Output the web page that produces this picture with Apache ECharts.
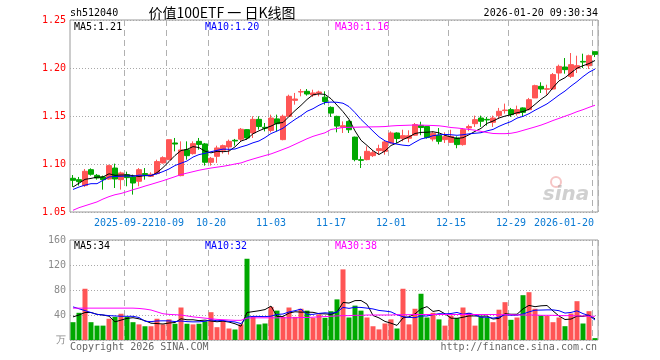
<!DOCTYPE html>
<html>
<head>
<meta charset="utf-8">
<script src="https://cdn.jsdelivr.net/npm/echarts@6/dist/echarts.min.js"></script>
<style>
html,body{margin:0;padding:0;background:#fff;}
#chart{width:660px;height:360px;}
</style>
</head>
<body>
<div id="chart"></div>
<script>
const dates = ['2025-09-09','2025-09-10','2025-09-11','2025-09-12','2025-09-15','2025-09-16','2025-09-17','2025-09-18','2025-09-19',
'2025-09-22','2025-09-23','2025-09-24','2025-09-25','2025-09-26','2025-09-29','2025-09-30',
'2025-10-09','2025-10-10','2025-10-13','2025-10-14','2025-10-15','2025-10-16','2025-10-17',
'2025-10-20','2025-10-21','2025-10-22','2025-10-23','2025-10-24','2025-10-27','2025-10-28','2025-10-29','2025-10-30','2025-10-31',
'2025-11-03','2025-11-04','2025-11-05','2025-11-06','2025-11-07','2025-11-10','2025-11-11','2025-11-12','2025-11-13','2025-11-14',
'2025-11-17','2025-11-18','2025-11-19','2025-11-20','2025-11-21','2025-11-24','2025-11-25','2025-11-26','2025-11-27','2025-11-28',
'2025-12-01','2025-12-02','2025-12-03','2025-12-04','2025-12-05','2025-12-08','2025-12-09','2025-12-10','2025-12-11','2025-12-12',
'2025-12-15','2025-12-16','2025-12-17','2025-12-18','2025-12-19','2025-12-22','2025-12-23','2025-12-24','2025-12-25','2025-12-26',
'2025-12-29','2025-12-30','2025-12-31',
'2026-01-05','2026-01-06','2026-01-07','2026-01-08','2026-01-09',
'2026-01-12','2026-01-13','2026-01-14','2026-01-15','2026-01-16',
'2026-01-19','2026-01-20'];

const xTickDates = ['2025-09-22','2025-10-09','2025-10-20','2025-11-03','2025-11-17','2025-12-01','2025-12-15','2025-12-29','2026-01-20'];
const xTickLabels = ['2025-09-22','10-09','10-20','11-03','11-17','12-01','12-15','12-29','2026-01-20'];

const openP = [1.0851,1.0837,1.0775,1.0941,1.0882,1.0865,1.0844,1.0958,1.0837,1.0889,
1.0865,1.0820,1.0900,1.0872,1.0900,1.1011,1.1045,1.1219,1.0879,1.1149,
1.1108,1.1236,1.1209,1.1018,1.1080,1.1143,1.1177,1.1247,1.1258,1.1358,
1.1323,1.1465,1.1382,1.1350,1.1470,1.1254,1.1497,1.1663,1.1750,1.1757,
1.1719,1.1736,1.1696,1.1590,1.1496,1.1382,1.1444,1.1280,1.1045,1.1046,
1.1087,1.1140,1.1132,1.1219,1.1323,1.1267,1.1268,1.1300,1.1402,1.1390,
1.1260,1.1300,1.1254,1.1226,1.1271,1.1202,1.1375,1.1420,1.1479,1.1465,
1.1434,1.1504,1.1556,1.1566,1.1525,1.1584,1.1566,1.1688,1.1809,1.1778,
1.1781,1.1948,1.2010,1.1913,1.1997,1.2069,1.2024,1.2170];

const closeP = [1.0830,1.0816,1.0924,1.0893,1.0854,1.0837,1.0983,1.0844,1.0907,1.0858,
1.0802,1.0941,1.0889,1.0893,1.1025,1.1066,1.1253,1.1208,1.1146,1.1087,
1.1212,1.1204,1.1018,1.1059,1.1167,1.1191,1.1236,1.1240,1.1362,1.1271,
1.1465,1.1390,1.1372,1.1479,1.1420,1.1497,1.1705,1.1677,1.1754,1.1729,
1.1740,1.1750,1.1651,1.1530,1.1395,1.1399,1.1357,1.1046,1.1038,1.1132,
1.1118,1.1160,1.1230,1.1323,1.1265,1.1295,1.1295,1.1410,1.1380,1.1275,
1.1320,1.1236,1.1285,1.1288,1.1202,1.1358,1.1390,1.1462,1.1445,1.1459,
1.1479,1.1549,1.1562,1.1514,1.1566,1.1538,1.1670,1.1816,1.1781,1.1784,
1.1931,1.2017,1.1983,1.2035,1.2024,1.2062,1.2128,1.2142];

const highP = [1.0885,1.0865,1.0948,1.0955,1.0896,1.0879,1.0993,1.1004,1.0920,1.0920,
1.0889,1.0958,1.0958,1.0913,1.1045,1.1080,1.1253,1.1271,1.1236,1.1236,
1.1236,1.1271,1.1219,1.1073,1.1191,1.1202,1.1254,1.1261,1.1375,1.1362,
1.1497,1.1497,1.1427,1.1514,1.1514,1.1514,1.1722,1.1740,1.1781,1.1781,
1.1774,1.1764,1.1757,1.1600,1.1503,1.1444,1.1455,1.1285,1.1080,1.1184,
1.1142,1.1201,1.1243,1.1340,1.1330,1.1357,1.1351,1.1427,1.1440,1.1392,
1.1340,1.1375,1.1330,1.1357,1.1288,1.1375,1.1410,1.1504,1.1504,1.1490,
1.1504,1.1584,1.1629,1.1584,1.1608,1.1590,1.1688,1.1826,1.1851,1.1826,
1.1948,1.2035,1.2104,1.2156,1.2128,1.2149,1.2139,1.2170];

const lowP = [1.0761,1.0775,1.0761,1.0879,1.0837,1.0733,1.0837,1.0750,1.0733,1.0768,
1.0681,1.0768,1.0837,1.0865,1.0889,1.1004,1.1045,1.1132,1.0872,1.1045,
1.1098,1.1149,1.0983,1.0983,1.1011,1.1108,1.1098,1.1191,1.1236,1.1254,
1.1271,1.1358,1.1340,1.1330,1.1340,1.1247,1.1497,1.1618,1.1705,1.1712,
1.1698,1.1705,1.1618,1.1490,1.1330,1.1323,1.1323,1.1028,1.0958,1.1038,
1.1073,1.1097,1.1097,1.1212,1.1219,1.1236,1.1226,1.1295,1.1300,1.1265,
1.1236,1.1205,1.1219,1.1219,1.1164,1.1191,1.1341,1.1386,1.1386,1.1400,
1.1386,1.1469,1.1525,1.1490,1.1504,1.1497,1.1559,1.1688,1.1740,1.1722,
1.1774,1.1878,1.1941,1.1896,1.1948,1.2000,1.1990,1.2114];

const ma5 = [1.0760,1.0800,1.0840,1.0850,1.0863,1.0865,1.0898,1.0882,1.0885,1.0886,
1.0879,1.0870,1.0879,1.0877,1.0910,1.0963,1.1025,1.1089,1.1140,1.1152,
1.1181,1.1171,1.1133,1.1116,1.1132,1.1128,1.1134,1.1179,1.1239,1.1260,
1.1315,1.1346,1.1372,1.1395,1.1425,1.1432,1.1495,1.1556,1.1611,1.1672,
1.1721,1.1730,1.1725,1.1680,1.1613,1.1545,1.1466,1.1345,1.1247,1.1194,
1.1138,1.1099,1.1136,1.1193,1.1219,1.1255,1.1282,1.1318,1.1329,1.1331,
1.1336,1.1324,1.1299,1.1281,1.1266,1.1274,1.1305,1.1340,1.1371,1.1423,
1.1447,1.1479,1.1499,1.1513,1.1534,1.1546,1.1570,1.1621,1.1674,1.1718,
1.1796,1.1866,1.1899,1.1950,1.1998,1.2024,1.2046,1.2078];

const ma10 = [1.0735,1.0760,1.0780,1.0795,1.0795,1.0830,1.0865,1.0870,1.0872,1.0875,
1.0872,1.0884,1.0881,1.0881,1.0898,1.0921,1.0948,1.0984,1.1008,1.1031,
1.1072,1.1098,1.1111,1.1128,1.1142,1.1155,1.1153,1.1156,1.1178,1.1196,
1.1221,1.1240,1.1275,1.1317,1.1343,1.1373,1.1420,1.1464,1.1503,1.1549,
1.1576,1.1612,1.1640,1.1645,1.1643,1.1633,1.1598,1.1535,1.1464,1.1404,
1.1342,1.1283,1.1241,1.1220,1.1207,1.1196,1.1190,1.1227,1.1261,1.1275,
1.1295,1.1303,1.1308,1.1305,1.1299,1.1305,1.1314,1.1320,1.1326,1.1345,
1.1360,1.1392,1.1419,1.1442,1.1478,1.1496,1.1524,1.1560,1.1593,1.1626,
1.1671,1.1718,1.1760,1.1812,1.1858,1.1910,1.1956,1.1989];

const ma30 = [1.0518,1.0545,1.0565,1.0585,1.0605,1.0635,1.0660,1.0680,1.0693,1.0712,
1.0732,1.0750,1.0770,1.0788,1.0807,1.0826,1.0847,1.0868,1.0890,1.0905,
1.0920,1.0935,1.0947,1.0958,1.0967,1.0976,1.0987,1.1000,1.1011,1.1033,
1.1052,1.1070,1.1088,1.1105,1.1128,1.1152,1.1176,1.1205,1.1234,1.1263,
1.1288,1.1307,1.1325,1.1360,1.1370,1.1380,1.1382,1.1383,1.1385,1.1386,
1.1387,1.1388,1.1390,1.1396,1.1400,1.1402,1.1404,1.1406,1.1405,1.1403,
1.1401,1.1398,1.1390,1.1380,1.1375,1.1368,1.1360,1.1352,1.1340,1.1328,
1.1318,1.1316,1.1316,1.1320,1.1332,1.1350,1.1368,1.1386,1.1405,1.1428,
1.1453,1.1475,1.1498,1.1520,1.1545,1.1566,1.1590,1.1612];

const volume = [28.5,43.5,82,28.5,23,23,34,37,42,37,
28.5,25,22,22,34,25,33,26,52,26,
25,26,30,44.5,20.5,30,18.4,16.8,25,130,
37,25,26.4,53,47,37,52,37,50,47,
35.5,41,35.5,46,65,113,36,55,47,36,
22,17,26.4,33,18.4,82,25,50,74,36,
43.5,33,23,39,35,52,43.5,23,37,36,
28.5,48.5,60.5,32.3,36,71.7,76.5,50,39.2,38.4,
28.5,36,22.1,42.4,62.1,26.4,46.1,3];

const volMa5 = [37,40,44,44,41.1,40,38.1,29.1,31.8,34.6,
35.7,33.9,30.9,26.9,26.3,25.6,27.2,28,34,32.4,
32.4,31,31.8,30.3,29.2,30.2,28.7,26,22.1,44,
45.4,46.8,48.7,54.3,37.7,37.7,43.1,45.2,44.6,44.6,
44.3,42.1,41.8,41,44.6,60.1,59.1,63,63.2,57.4,
39.2,35.4,29.7,26.9,23.4,35.4,37,41.7,49.9,53.4,
45.7,47.3,41.9,34.9,34.7,36.4,38.5,38.5,38.1,38.3,
33.6,34.6,42.1,41.2,41.2,49.8,55.4,53.3,54.7,55.2,
46.5,38.4,32.8,33.5,38.2,37.8,39.8,34];

const volMa10 = [53,50,47,44,41,40,39,38.5,38,37.9,
37.9,36,30,29.4,30.5,30.7,30.6,29.5,30.5,29.4,
29,29.1,29.9,32.2,30.8,31.3,29.8,28.9,26.2,36.6,
37.8,37.7,37.4,38.2,40.9,41.6,44.9,46.9,49.4,41.1,
41,42.6,43.5,42.8,44.6,52.2,50.6,52.4,52.1,51,
49.7,47.3,46.3,45,40.4,37.3,36.2,35.7,38.4,38.4,
40.5,42.1,41.8,42.4,44.1,41.1,42.9,40.2,36.5,36.5,
35,36.6,40.3,39.6,39.7,41.7,45,47.7,47.9,48.2,
48.2,46.9,43.1,44.1,46.7,42.2,39.1,32];

const volMa30 = [51,51,51,51,51,51,51,51,51,51,
51,50.5,49.5,48,45,42,41,40.5,40,38.5,
37,36,35,34,33,32.5,32,31.5,31.5,35,
35.5,35.5,35.5,35.5,35.5,35.5,35.5,35.5,36,36,
36.5,37,37.5,38,38.5,39,39,39.5,39.5,40,
40,40,40,40,40.5,40.5,40.5,40.8,40.8,40.8,
40.8,40.8,40.8,40.8,40.8,40.8,40.8,40.8,40.8,40.8,
40.8,40.5,40.5,40.5,40,40,40,40,39.5,39.5,
39.5,39,39,39,38.5,38.5,38,38];

const priceLegend = ['MA5:1.21','MA10:1.20','MA30:1.16'];
const volLegend = ['MA5:34','MA10:32','MA30:38'];

const UP = '#ff5555';
const DOWN = '#00a800';
const MONO = '"DejaVu Sans Mono", "Liberation Mono", monospace';
const LABEL_BLUE = '#0a7ad4';

const candleData = dates.map((d, i) => [openP[i], closeP[i], lowP[i], highP[i]]);
const volData = volume.map((v, i) => ({
  value: v,
  itemStyle: { color: closeP[i] >= openP[i] ? UP : DOWN }
}));

// edge labels (first / last) drawn by a second x axis so they are never dropped for overlap
const edgeTicks = [xTickDates[0], xTickDates[xTickDates.length - 1]];
const midTicks = xTickDates.slice(1, xTickDates.length - 1);

const splitDash = { show: true, interval: (idx) => xTickDates.indexOf(dates[idx]) >= 0,
  lineStyle: { color: '#b0b0b0', type: [6, 4], width: 1 } };
const dotted = { show: true, lineStyle: { color: '#a8a8a8', type: [1, 2], width: 1 } };

const chart = echarts.init(document.getElementById('chart'), null, { renderer: 'canvas' });

function txt(text, x, y, color, opts) {
  opts = opts || {};
  return {
    type: 'text', x: x, y: y, silent: true, z: 100,
    style: {
      text: text, fill: color,
      font: opts.font || ('10px ' + MONO),
      textAlign: opts.align || 'left', align: opts.align || 'left',
      textVerticalAlign: 'middle', verticalAlign: 'middle'
    }
  };
}

const option = {
  animation: false,
  backgroundColor: '#ffffff',
  textStyle: { fontFamily: MONO },
  grid: [
    { left: 70, top: 20, width: 528, height: 192, show: true, borderColor: '#9a9a9a', borderWidth: 1, backgroundColor: 'transparent' },
    { left: 70, top: 240, width: 528, height: 100, show: true, borderColor: '#9a9a9a', borderWidth: 1, backgroundColor: 'transparent' }
  ],
  xAxis: [
    {
      type: 'category', gridIndex: 0, data: dates, boundaryGap: true,
      axisLine: { show: false }, axisTick: { show: false },
      axisLabel: {
        interval: (idx) => midTicks.indexOf(dates[idx]) >= 0,
        hideOverlap: false,
        color: LABEL_BLUE, fontSize: 10, fontFamily: MONO, margin: 6,
        formatter: function (val) {
          const k = xTickDates.indexOf(val);
          return k < 0 ? '' : xTickLabels[k];
        }
      },
      splitLine: splitDash
    },
    {
      type: 'category', gridIndex: 1, data: dates, boundaryGap: true,
      axisLine: { show: false }, axisTick: { show: false }, axisLabel: { show: false },
      splitLine: splitDash
    },
    {
      type: 'category', gridIndex: 0, data: dates, boundaryGap: true, position: 'bottom',
      axisLine: { show: false }, axisTick: { show: false }, splitLine: { show: false },
      axisLabel: {
        interval: (idx) => edgeTicks.indexOf(dates[idx]) >= 0,
        hideOverlap: false,
        color: LABEL_BLUE, fontSize: 10, fontFamily: MONO, margin: 6,
        formatter: function (val) {
          const k = xTickDates.indexOf(val);
          if (k < 0) return '';
          if (k === xTickDates.length - 1) return '{r|' + xTickLabels[k] + '}';
          return '{l|' + xTickLabels[k] + '}';
        },
        rich: {
          r: { color: LABEL_BLUE, fontSize: 10, fontFamily: MONO, padding: [0, 62, 0, 0] },
          l: { color: LABEL_BLUE, fontSize: 10, fontFamily: MONO, padding: [0, 6, 0, 0] }
        }
      }
    }
  ],
  yAxis: [
    {
      type: 'value', gridIndex: 0, min: 1.05, max: 1.25, interval: 0.05,
      axisLine: { show: false }, axisTick: { show: false },
      axisLabel: { color: '#ff0000', fontSize: 10, fontFamily: MONO, margin: 4,
        formatter: v => v.toFixed(2) },
      splitLine: dotted
    },
    {
      type: 'value', gridIndex: 1, min: 0, max: 160, interval: 40,
      axisLine: { show: false }, axisTick: { show: false },
      axisLabel: { color: '#8a8a8a', fontSize: 10, fontFamily: MONO, margin: 4,
        formatter: v => (v === 0 ? '万' : String(v)) },
      splitLine: dotted
    }
  ],
  series: [
    {
      name: 'K', type: 'candlestick', xAxisIndex: 0, yAxisIndex: 0,
      data: candleData, barWidth: 5,
      itemStyle: { color: UP, color0: DOWN, borderColor: UP, borderColor0: DOWN, borderWidth: 1 },
      z: 2
    },
    { name: 'MA5', type: 'line', xAxisIndex: 0, yAxisIndex: 0, data: ma5, showSymbol: false,
      lineStyle: { color: '#000000', width: 1 }, z: 3 },
    { name: 'MA10', type: 'line', xAxisIndex: 0, yAxisIndex: 0, data: ma10, showSymbol: false,
      lineStyle: { color: '#0000ff', width: 1 }, z: 3 },
    { name: 'MA30', type: 'line', xAxisIndex: 0, yAxisIndex: 0, data: ma30, showSymbol: false,
      lineStyle: { color: '#ff00ff', width: 1 }, z: 3 },
    { name: 'VOL', type: 'bar', xAxisIndex: 1, yAxisIndex: 1, data: volData, barWidth: 5, z: 2 },
    { name: 'VMA5', type: 'line', xAxisIndex: 1, yAxisIndex: 1, data: volMa5, showSymbol: false,
      lineStyle: { color: '#000000', width: 1 }, z: 3 },
    { name: 'VMA10', type: 'line', xAxisIndex: 1, yAxisIndex: 1, data: volMa10, showSymbol: false,
      lineStyle: { color: '#0000ff', width: 1 }, z: 3 },
    { name: 'VMA30', type: 'line', xAxisIndex: 1, yAxisIndex: 1, data: volMa30, showSymbol: false,
      lineStyle: { color: '#ff00ff', width: 1 }, z: 3 }
  ],
  graphic: [
    txt('sh512040', 70, 13, '#000'),
    txt('价值100ETF 一 日K线图', 222, 13, '#000', { align: 'center', font: '14px "Noto Sans CJK SC", sans-serif' }),
    txt('2026-01-20 09:30:34', 598, 13, '#000', { align: 'right' }),
    txt(priceLegend[0], 74, 27, '#000'),
    txt(priceLegend[1], 205, 27, '#0000ff'),
    txt(priceLegend[2], 335, 27, '#ff00ff'),
    txt(volLegend[0], 74, 246, '#000'),
    txt(volLegend[1], 205, 246, '#0000ff'),
    txt(volLegend[2], 335, 246, '#ff00ff'),
    txt('Copyright 2026 SINA.COM', 70, 347, '#666'),
    txt('http://finance.sina.com.cn', 597, 347, '#666', { align: 'right' }),
    {
      type: 'circle', silent: true, z: 1, shape: { cx: 556, cy: 182, r: 5 },
      style: { fill: 'none', stroke: 'rgba(230,90,90,0.35)', lineWidth: 2 }
    },
    txt('sina', 566, 195, 'rgba(150,150,150,0.45)', { align: 'center', font: 'italic bold 20px "DejaVu Sans", sans-serif' })
  ]
};

chart.setOption(option);
</script>
</body>
</html>
